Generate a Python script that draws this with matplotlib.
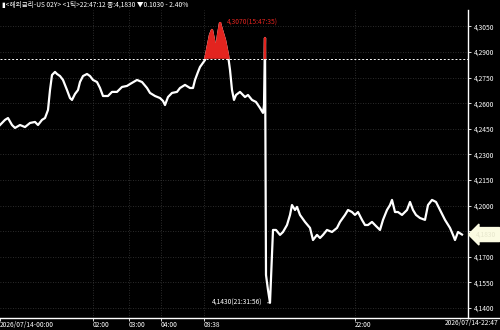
import numpy as np
import matplotlib
matplotlib.use("Agg")
import matplotlib.pyplot as plt
from matplotlib.lines import Line2D
from matplotlib.patches import Rectangle

plt.rcParams["font.family"] = ["Noto Sans CJK KR", "DejaVu Sans"]
plt.rcParams["axes.unicode_minus"] = False

# 틱 인덱스(압축된 시간축)와 가격
idx = [0, 5, 8, 12, 15, 20, 25, 30, 35, 38, 42, 45, 48, 50, 52, 55, 57, 60, 63, 67,
       70, 72, 75, 78, 80, 83, 87, 90, 93, 97, 100, 103, 108, 112, 117, 122, 127, 130,
       137, 142, 147, 150, 155, 160, 163, 165, 168, 172, 177, 180, 185, 190, 193, 195,
       198, 200, 203, 205, 207, 210, 212, 214, 216, 218, 220, 222, 225, 228, 230, 232,
       234, 236, 240, 245, 248, 252, 256, 260, 263, 264, 265, 266, 268, 270, 273, 276,
       280, 283, 287, 290, 292, 295, 297, 300, 305, 310, 313, 317, 320, 323, 327, 332,
       337, 340, 345, 348, 352, 355, 358, 362, 365, 368, 372, 376, 380, 383, 387, 390,
       392, 395, 398, 402, 407, 410, 413, 416, 420, 425, 428, 432, 436, 440, 445, 450,
       453, 455, 458, 462]
price = [4.2472, 4.2502, 4.2513, 4.2472, 4.2455, 4.2472, 4.2460, 4.2484, 4.2490, 4.2472,
         4.2502, 4.2513, 4.2560, 4.2677, 4.2765, 4.2783, 4.2771, 4.2759, 4.2736, 4.2677,
         4.2630, 4.2619, 4.2654, 4.2677, 4.2724, 4.2759, 4.2771, 4.2759, 4.2736, 4.2724,
         4.2689, 4.2642, 4.2642, 4.2666, 4.2666, 4.2695, 4.2701, 4.2712, 4.2736, 4.2724,
         4.2689, 4.2660, 4.2642, 4.2630, 4.2613, 4.2589, 4.2636, 4.2660, 4.2666, 4.2689,
         4.2707, 4.2689, 4.2689, 4.2736, 4.2783, 4.2812, 4.2836, 4.2853, 4.2912, 4.3000,
         4.3029, 4.2970, 4.2912, 4.3000, 4.3070, 4.3029, 4.2970, 4.2882, 4.2795, 4.2677,
         4.2619, 4.2648, 4.2666, 4.2636, 4.2648, 4.2619, 4.2607, 4.2572, 4.2543, 4.2589,
         4.2982, 4.1593, 4.1505, 4.1430, 4.1857, 4.1857, 4.1828, 4.1845, 4.1886, 4.1945,
         4.2003, 4.1974, 4.1992, 4.1945, 4.1904, 4.1869, 4.1798, 4.1828, 4.1810, 4.1828,
         4.1857, 4.1845, 4.1869, 4.1904, 4.1945, 4.1974, 4.1962, 4.1945, 4.1962, 4.1916,
         4.1886, 4.1886, 4.1904, 4.1880, 4.1857, 4.1916, 4.1974, 4.2003, 4.2033, 4.1962,
         4.1962, 4.1945, 4.1974, 4.2021, 4.1974, 4.1945, 4.1927, 4.1916, 4.2003, 4.2033,
         4.2021, 4.1974, 4.1916, 4.1869, 4.1828, 4.1798, 4.1845, 4.1830]

prev_close = 4.2860
last = 4.1830
hi, hi_idx, hi_time = 4.3070, 220, "15:47:35"
lo, lo_idx, lo_time = 4.1430, 270, "21:31:56"

xtick_pos = [0, 93, 129, 161, 204, 355]
xtick_lbl = ["2026/07/14-00:00", "02:00", "03:00", "04:00", "08:38", "22:00"]
end_lbl = "2026/07/14-22:47"
yticks = [4.3050, 4.2900, 4.2750, 4.2600, 4.2450, 4.2300, 4.2150, 4.2000,
          4.1850, 4.1700, 4.1550, 4.1400]
hidden_ytick = 4.1850  # 현재가 박스 뒤에 가려짐
title = "▮<해외금리-US 02Y> <1틱>22:47:12 종:4,1830 ▼0.1030 - 2.40%"


def kfmt(v):
    return f"{v:.4f}".replace(".", ",")


RED = "#e3241f"
GRID = "#3a3a3a"
FS = 4.8

x = np.array(idx, dtype=float)
y = np.array(price)

fig = plt.figure(figsize=(5, 3.3), dpi=100, facecolor="black")
ax = fig.add_axes([0, 12 / 330, 468 / 500, 308 / 330], facecolor="black")

ax.set_xlim(0, 468)
ax.set_ylim(4.1341, 4.3146)

# 그리드
for yt in yticks:
    ax.axhline(yt, color=GRID, lw=0.6, ls=(0, (1, 2)), zorder=0)
for xt in xtick_pos[1:]:
    ax.axvline(xt, color=GRID, lw=0.6, ls=(0, (1, 2)), zorder=0)

# 전일 종가 기준선
ax.axhline(prev_close, color="white", lw=0.7, ls=(0, (2, 2)), zorder=1)

# 가격선 (기준선 위는 빨간색) + 빨간 영역
ax.plot(x, y, color="white", lw=1.6, zorder=2)
red_line, = ax.plot(x, y, color=RED, lw=1.6, zorder=3)
red_line.set_clip_path(Rectangle((0, prev_close), 468, 1, transform=ax.transData))
ax.fill_between(x, y, prev_close, where=y > prev_close, interpolate=True,
                color=RED, lw=0, zorder=3)

# 고가 / 저가 표시
ax.annotate(f"{kfmt(hi)}({hi_time})", xy=(hi_idx, hi), xytext=(hi_idx + 7, hi),
            color=RED, fontsize=FS, ha="left", va="center",
            arrowprops=dict(arrowstyle="-", color=RED, lw=0.6))
ax.annotate(f"{kfmt(lo)}({lo_time})", xy=(lo_idx, lo), xytext=(lo_idx - 8, lo),
            color="white", fontsize=FS, ha="right", va="center",
            arrowprops=dict(arrowstyle="-", color="white", lw=0.6))

# 축
ax.yaxis.tick_right()
ax.set_yticks(yticks)
ax.set_yticklabels(["" if v == hidden_ytick else kfmt(v) for v in yticks])
ax.set_xticks(xtick_pos)
ax.set_xticklabels(xtick_lbl)
for lbl in ax.get_xticklabels():
    lbl.set_ha("left")
ax.tick_params(axis="y", colors="white", labelsize=FS, length=2.5, width=0.6, pad=1.5)
ax.tick_params(axis="x", colors="white", labelsize=FS, length=2, width=0.6, pad=0.3)
for side in ["left", "top"]:
    ax.spines[side].set_visible(False)
for side in ["right", "bottom"]:
    ax.spines[side].set_color("white")
    ax.spines[side].set_linewidth(1.0)

# 마지막 시간 라벨 (오른쪽 끝)
fig.text(499 / 500, 11 / 330, end_lbl, color="white", fontsize=FS, ha="right", va="top")

# 하단 축선 오른쪽 연장
fig.add_artist(Line2D([468 / 500, 1], [12 / 330, 12 / 330], color="white", lw=1.0))

# 현재가 박스
ax.annotate(kfmt(last), xy=(1.0, last), xycoords=("axes fraction", "data"),
            xytext=(6, 0), textcoords="offset points", fontsize=FS,
            color="#e6e6cc", ha="left", va="center", annotation_clip=False,
            zorder=5,
            bbox=dict(boxstyle="larrow,pad=0.45", fc="#fbfbe2", ec="#fbfbe2"))

fig.text(0.004, 1 - 1 / 330, title, color="white", fontsize=FS, ha="left", va="top")

fig.savefig("out.png", dpi=100, facecolor="black")
